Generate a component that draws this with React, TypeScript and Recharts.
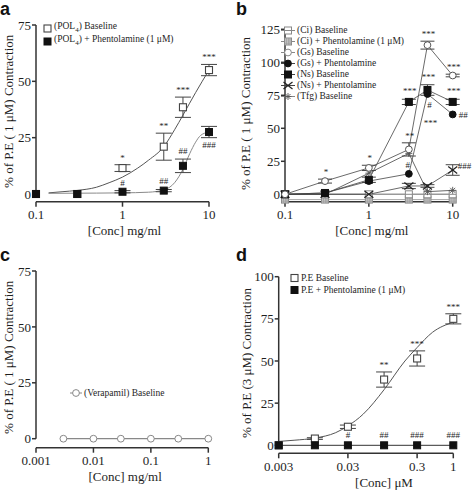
import React from "react"
import { ComposedChart, XAxis, YAxis, Scatter, Line, ErrorBar, ReferenceLine, Label } from "recharts"

const W = 236
const H = 246
const SERIF = '"Liberation Serif", "Times New Roman", serif'
const AXIS = "#333"
const INK = "#1e1e1e"

// ---- panel a: POL4 ----
const concA = [0.1, 0.3, 1, 3, 5, 10]
const polBase = [0, 0, 11.5, 21, 38.5, 55]
const polBaseErr = [0, 0, 1.5, 6, 4.5, 2.5]
const polBaseSig = ["", "", "*", "**", "***", "***"]
const polPhent = [0, 0, 1, 1.5, 12.5, 27.5]
const polPhentErr = [0, 0, 0.5, 0.5, 3, 2.5]
const polPhentSigUp = ["", "", "#", "##", "##", ""]
const polPhentSigDown = ["", "", "", "", "", "###"]
const polBaseFitX = [0.14, 0.2, 0.3, 0.5, 0.7, 1, 1.5, 2, 3, 4, 5, 7, 10]
const polBaseFitY = [0.5, 1, 1.6, 3, 5, 7.5, 11.5, 15, 21, 28.5, 35, 45, 55]
const polPhentFitX = [0.14, 0.5, 1, 2, 3, 4, 5, 6, 7, 8, 10]
const polPhentFitY = [0.3, 0.4, 0.5, 0.8, 1.8, 5, 11, 18, 23, 26, 27.5]

// ---- panel b: extracts ----
const concB = [0.1, 0.3, 1, 3, 5, 10]
const ciBase = [0, 0, 0, 0, 0, 0]
const ciPhent = [-4, -4, -4, -4, -4, -4]
const gsBase = [0, 10, 20, 34, 113, 90]
const gsBaseErr = [0, 1.5, 2, 5, 3, 1]
const gsBaseSig = ["", "*", "*", "**", "***", "***"]
const gsPhent = [0, 1, 10, 15.5, 76, 60.5]
const gsPhentSigUp = ["", "", "", "#", "", ""]
const gsPhentSigDown = ["", "", "", "", "#", ""]
const gsPhentSigFar = ["", "", "", "", "***", ""]
const gsPhentSigRight = ["", "", "", "", "", "##"]
const nsBase = [0, 1, 11, 70, 79, 70]
const nsBaseErr = [0, 0, 2, 2, 4, 2]
const nsBaseSig = ["", "", "", "***", "***", "***"]
const nsPhent = [0, 0, 0, 6.3, 6.3, 18.4]
const nsPhentErr = [0, 0, 0, 2, 1, 4]
const nsPhentSigRight = ["", "", "", "", "", "###"]
const tfgBase = [0, 0, 16, 31, 2, 3]

// ---- panel c: verapamil ----
const concC = [0.003, 0.01, 0.03, 0.1, 0.3, 1]
const veraBase = [0, 0, 0, 0, 0, 0]

// ---- panel d: P.E ----
const concD = [0.003, 0.01, 0.03, 0.1, 0.3, 1]
const peBase = [0, 4, 11, 39, 51.5, 75]
const peBaseErr = [0, 0.5, 1, 4.5, 4.5, 3]
const peBaseSig = ["", "", "", "**", "***", "***"]
const pePhent = [0, 0, 0, 0, 0, 0]
const pePhentSig = ["", "", "#", "##", "###", "###"]
const peFitX = [0.003, 0.005, 0.01, 0.02, 0.03, 0.05, 0.1, 0.2, 0.3, 0.5, 1]
const peFitY = [2.3, 3, 4.3, 7.5, 11.5, 18.5, 33, 50, 58, 67, 73]

type Pt = { x: number; y: number; err: number; sig: string }

const pts = (xs: number[], ys: number[], errs?: number[], sigs?: string[]): Pt[] =>
  xs.map((x, i) => ({ x, y: ys[i], err: errs ? errs[i] : 0, sig: sigs ? sigs[i] : "" }))

// label anchors sit on top (or bottom) of the error bar
const sigTop = (xs: number[], ys: number[], errs: number[], sigs: string[]) =>
  xs.map((x, i) => ({ x, y: ys[i] + errs[i], sig: sigs[i] })).filter((d) => d.sig)
const sigBottom = (xs: number[], ys: number[], errs: number[], sigs: string[]) =>
  xs.map((x, i) => ({ x, y: ys[i] - errs[i], sig: sigs[i] })).filter((d) => d.sig)
const zeros = (n: number) => new Array(n).fill(0)

// ---- markers ----
const openSquare = (p: any) => (
  <rect x={p.cx - 3.5} y={p.cy - 3.5} width={7} height={7} fill="#fff" stroke="#444" strokeWidth={1.1} />
)
const filledSquare = (p: any) => (
  <rect x={p.cx - 3.5} y={p.cy - 3.5} width={7} height={7} fill="#111" stroke="#111" strokeWidth={1} />
)
const lineSquare = (p: any) => (
  <g>
    <rect x={p.cx - 3.5} y={p.cy - 3.5} width={7} height={7} fill="#fff" stroke="#888" strokeWidth={1} />
    <line x1={p.cx - 3.5} x2={p.cx + 3.5} y1={p.cy} y2={p.cy} stroke="#888" strokeWidth={1} />
  </g>
)
const hatchSquare = (p: any) => (
  <g>
    <rect x={p.cx - 3.5} y={p.cy - 3.5} width={7} height={7} fill="#d0d0d0" stroke="#888" strokeWidth={1} />
    {[-1.5, 0.5, 2].map((d) => (
      <line key={"h" + d} x1={p.cx - 3.5} x2={p.cx + 3.5} y1={p.cy + d} y2={p.cy + d} stroke="#999" strokeWidth={0.6} />
    ))}
    {[-1.5, 0.5, 2].map((d) => (
      <line key={"v" + d} x1={p.cx + d} x2={p.cx + d} y1={p.cy - 3.5} y2={p.cy + 3.5} stroke="#999" strokeWidth={0.6} />
    ))}
  </g>
)
const openCircle = (p: any) => <circle cx={p.cx} cy={p.cy} r={3.4} fill="#fff" stroke="#555" strokeWidth={1} />
const grayCircle = (p: any) => <circle cx={p.cx} cy={p.cy} r={3.4} fill="#fff" stroke="#888" strokeWidth={1} />
const filledCircle = (p: any) => <circle cx={p.cx} cy={p.cy} r={3.4} fill="#111" stroke="#111" strokeWidth={1} />
const cross = (p: any) => (
  <g stroke="#222" strokeWidth={1.2}>
    <line x1={p.cx - 4.5} x2={p.cx + 4.5} y1={p.cy - 3.5} y2={p.cy + 3.5} />
    <line x1={p.cx - 4.5} x2={p.cx + 4.5} y1={p.cy + 3.5} y2={p.cy - 3.5} />
  </g>
)
const star = (p: any) => (
  <g stroke="#555" strokeWidth={0.9}>
    <line x1={p.cx - 3.5} x2={p.cx + 3.5} y1={p.cy} y2={p.cy} />
    <line x1={p.cx} x2={p.cx} y1={p.cy - 3.5} y2={p.cy + 3.5} />
    <line x1={p.cx - 2.5} x2={p.cx + 2.5} y1={p.cy - 2.5} y2={p.cy + 2.5} />
    <line x1={p.cx - 2.5} x2={p.cx + 2.5} y1={p.cy + 2.5} y2={p.cy - 2.5} />
  </g>
)

const sigText = (dx: number, dy: number, anchor: "start" | "middle" = "middle") => (p: any) =>
  p.payload && p.payload.sig ? (
    <text x={p.cx + dx} y={p.cy + dy} textAnchor={anchor} fontSize={9} fontFamily={SERIF} fill={INK}>
      {p.payload.sig}
    </text>
  ) : (
    <g />
  )

// ---- frames ----
type Frame = {
  left: number
  right: number
  top: number
  zeroY: number
  axisY: number
  yMax: number
  xDomain: [number, number]
  xTicks: number[]
  yTicks: number[]
  yTitle: string
  xTitle: string
  yTitleX: number
  xTitleDx: number
}

const frameA: Frame = {
  left: 36, right: 209, top: 25, zeroY: 194, axisY: 201.7, yMax: 75,
  xDomain: [0.1, 10], xTicks: [0.1, 1, 10], yTicks: [0, 25, 50, 75],
  yTitle: "% of P.E ( 1 μM) Contraction", xTitle: "[Conc] mg/ml", yTitleX: 9, xTitleDx: 2,
}
const frameB: Frame = {
  left: 49, right: 216.7, top: 29.3, zeroY: 194.3, axisY: 201.7, yMax: 125,
  xDomain: [0.1, 10], xTicks: [0.1, 1, 10], yTicks: [0, 25, 50, 75, 100, 125],
  yTitle: "% of P.E ( 1 μM) Contraction", xTitle: "[Conc] mg/ml", yTitleX: 9.3, xTitleDx: 3,
}
const frameC: Frame = {
  left: 36, right: 208.3, top: 25, zeroY: 192.7, axisY: 201.7, yMax: 75,
  xDomain: [0.001, 1], xTicks: [0.001, 0.01, 0.1, 1], yTicks: [0, 25, 50, 75],
  yTitle: "% of P.E ( 1 μM) Contraction", xTitle: "[Conc] mg/ml", yTitleX: 9, xTitleDx: 3,
}
const frameD: Frame = {
  left: 42.7, right: 217.3, top: 30.7, zeroY: 199.3, axisY: 207.3, yMax: 100,
  xDomain: [0.003, 1], xTicks: [0.003, 0.03, 0.3, 1], yTicks: [0, 25, 50, 75, 100],
  yTitle: "% of P.E (3 μM) Contraction", xTitle: "[Conc] μM", yTitleX: 10.7, xTitleDx: 18,
}

const marginOf = (f: Frame) => ({ top: f.top, right: W - f.right, left: 0, bottom: 0 })
const yMinOf = (f: Frame) => -(f.axisY - f.zeroY) / ((f.zeroY - f.top) / f.yMax)

function axes(f: Frame) {
  const xTitle = (p: any) => {
    const vb = p.viewBox
    return (
      <text x={vb.x + vb.width / 2 + f.xTitleDx} y={vb.y + 33.5} textAnchor="middle" fontSize={13} fontFamily={SERIF} fill={INK}>
        {f.xTitle}
      </text>
    )
  }
  const yTitle = (p: any) => {
    const vb = p.viewBox
    const x = f.yTitleX
    const y = vb.y + vb.height / 2 - 2
    return (
      <text x={x} y={y} transform={`rotate(-90 ${x} ${y})`} textAnchor="middle" dominantBaseline="central" fontSize={13} fontFamily={SERIF} fill={INK}>
        {f.yTitle}
      </text>
    )
  }
  return [
    <XAxis
      key="x"
      type="number"
      dataKey="x"
      scale="log"
      domain={f.xDomain}
      ticks={f.xTicks}
      interval={0}
      height={H - f.axisY}
      axisLine={{ stroke: AXIS, strokeWidth: 1.5 }}
      tickLine={{ stroke: AXIS, strokeWidth: 1.5 }}
      tickSize={5}
      tickMargin={3}
      tick={{ fontSize: 13, fontFamily: SERIF, fill: INK }}
      label={<Label content={xTitle} />}
    />,
    <YAxis
      key="y"
      type="number"
      dataKey="y"
      domain={[yMinOf(f), f.yMax]}
      ticks={f.yTicks}
      interval={0}
      width={f.left}
      axisLine={false}
      tickLine={{ stroke: AXIS, strokeWidth: 1.5 }}
      tickSize={4}
      tickMargin={1}
      tick={{ fontSize: 13, fontFamily: SERIF, fill: INK }}
      label={<Label content={yTitle} />}
    />,
    <ReferenceLine
      key="yline"
      segment={[
        { x: f.xDomain[0], y: 0 },
        { x: f.xDomain[0], y: f.yMax },
      ]}
      stroke={AXIS}
      strokeWidth={1.5}
      ifOverflow="visible"
    />,
  ]
}

// ---- legends ----
type LegendItem = { label: React.ReactNode; shape: (p: any) => React.ReactNode; line?: string }

function LegendBox({ items, left, top, pitch, symW }: { items: LegendItem[]; left: number; top: number; pitch: number; symW: number }) {
  return (
    <div style={{ position: "absolute", left, top, fontFamily: SERIF, fontSize: 9.5, color: INK, lineHeight: `${pitch}px` }}>
      {items.map((it, i) => (
        <div key={i} style={{ display: "flex", alignItems: "center", height: pitch, whiteSpace: "nowrap" }}>
          <svg width={symW} height={pitch} style={{ marginRight: 2, overflow: "visible" }}>
            {it.line && <line x1={0} x2={symW} y1={pitch / 2} y2={pitch / 2} stroke={it.line} strokeWidth={1} />}
            {it.shape({ cx: symW / 2, cy: pitch / 2 })}
          </svg>
          <span>{it.label}</span>
        </div>
      ))}
    </div>
  )
}

const Letter = ({ ch }: { ch: string }) => (
  <div style={{ position: "absolute", left: 0, top: 1, lineHeight: "16px", fontFamily: '"Liberation Sans", Arial, sans-serif', fontWeight: 700, fontSize: 18, color: "#111" }}>
    {ch}
  </div>
)

const fit = (xs: number[], ys: number[]) => xs.map((x, i) => ({ x, y: ys[i] }))

function PanelA() {
  const base = pts(concA, polBase, polBaseErr)
  const phent = pts(concA, polPhent, polPhentErr)
  return (
    <div style={{ position: "absolute", left: 0, top: 0, width: W, height: H }}>
      <ComposedChart width={W} height={H} margin={marginOf(frameA)}>
        {axes(frameA)}
        <Line data={fit(polBaseFitX, polBaseFitY)} dataKey="y" type="monotone" dot={false} stroke="#555" strokeWidth={1} isAnimationActive={false} />
        <Line data={fit(polPhentFitX, polPhentFitY)} dataKey="y" type="monotone" dot={false} stroke="#8a8a8a" strokeWidth={1} isAnimationActive={false} />
        <Scatter data={base} dataKey="y" shape={openSquare} isAnimationActive={false}>
          <ErrorBar dataKey="err" direction="y" width={8} stroke="#444" strokeWidth={1} />
        </Scatter>
        <Scatter data={phent} dataKey="y" shape={filledSquare} isAnimationActive={false}>
          <ErrorBar dataKey="err" direction="y" width={8} stroke="#444" strokeWidth={1} />
        </Scatter>
        <Scatter data={sigTop(concA, polBase, polBaseErr, polBaseSig)} dataKey="y" shape={sigText(0, -4)} isAnimationActive={false} />
        <Scatter data={sigTop(concA, polPhent, polPhentErr, polPhentSigUp)} dataKey="y" shape={sigText(0, -5)} isAnimationActive={false} />
        <Scatter data={sigBottom(concA, polPhent, polPhentErr, polPhentSigDown)} dataKey="y" shape={sigText(0, 10)} isAnimationActive={false} />
      </ComposedChart>
      <Letter ch="a" />
      <LegendBox
        left={43}
        top={22}
        pitch={13}
        symW={9}
        items={[
          { label: <>(POL<sub style={{ fontSize: 7 }}>4</sub>) Baseline</>, shape: openSquare },
          { label: <>(POL<sub style={{ fontSize: 7 }}>4</sub>) + Phentolamine (1 μM)</>, shape: filledSquare },
        ]}
      />
    </div>
  )
}

function PanelB() {
  const thin = { stroke: "#444", strokeWidth: 0.8 }
  return (
    <div style={{ position: "absolute", left: W, top: 0, width: W, height: H }}>
      <ComposedChart width={W} height={H} margin={marginOf(frameB)}>
        {axes(frameB)}
        <Scatter data={pts(concB, ciPhent)} dataKey="y" shape={hatchSquare} line={{ stroke: "#aaa", strokeWidth: 1 }} isAnimationActive={false} />
        <Scatter data={pts(concB, ciBase)} dataKey="y" shape={lineSquare} line={{ stroke: "#999", strokeWidth: 1.5 }} isAnimationActive={false} />
        <Scatter data={pts(concB, tfgBase)} dataKey="y" shape={star} line={thin} isAnimationActive={false} />
        <Scatter data={pts(concB, nsPhent, nsPhentErr)} dataKey="y" shape={cross} line={thin} isAnimationActive={false}>
          <ErrorBar dataKey="err" direction="y" width={7} stroke="#444" strokeWidth={1} />
        </Scatter>
        <Scatter data={pts(concB, gsPhent)} dataKey="y" shape={filledCircle} line={thin} isAnimationActive={false} />
        <Scatter data={pts(concB, nsBase, nsBaseErr)} dataKey="y" shape={filledSquare} line={thin} isAnimationActive={false}>
          <ErrorBar dataKey="err" direction="y" width={7} stroke="#444" strokeWidth={1} />
        </Scatter>
        <Scatter data={pts(concB, gsBase, gsBaseErr)} dataKey="y" shape={openCircle} line={thin} isAnimationActive={false}>
          <ErrorBar dataKey="err" direction="y" width={7} stroke="#444" strokeWidth={1} />
        </Scatter>
        <Scatter data={sigTop(concB, gsBase, gsBaseErr, gsBaseSig)} dataKey="y" shape={sigText(1, -4)} isAnimationActive={false} />
        <Scatter data={sigTop(concB, nsBase, nsBaseErr, nsBaseSig)} dataKey="y" shape={sigText(1, -5)} isAnimationActive={false} />
        <Scatter data={sigTop(concB, gsPhent, zeros(6), gsPhentSigUp)} dataKey="y" shape={sigText(-1, -6)} isAnimationActive={false} />
        <Scatter data={sigBottom(concB, gsPhent, zeros(6), gsPhentSigDown)} dataKey="y" shape={sigText(2, 14)} isAnimationActive={false} />
        <Scatter data={sigBottom(concB, gsPhent, zeros(6), gsPhentSigFar)} dataKey="y" shape={sigText(3, 32)} isAnimationActive={false} />
        <Scatter data={sigTop(concB, gsPhent, zeros(6), gsPhentSigRight)} dataKey="y" shape={sigText(6, 4, "start")} isAnimationActive={false} />
        <Scatter data={sigTop(concB, nsPhent, nsPhentErr, nsPhentSigRight)} dataKey="y" shape={sigText(5, 4, "start")} isAnimationActive={false} />
      </ComposedChart>
      <Letter ch="b" />
      <LegendBox
        left={45}
        top={24.5}
        pitch={11}
        symW={14}
        items={[
          { label: "(Ci) Baseline", shape: lineSquare, line: "#888" },
          { label: "(Ci) + Phentolamine (1 μM)", shape: hatchSquare, line: "#888" },
          { label: "(Gs) Baseline", shape: grayCircle, line: "#888" },
          { label: "(Gs) + Phentolamine", shape: filledCircle, line: "#444" },
          { label: "(Ns) Baseline", shape: filledSquare, line: "#444" },
          { label: "(Ns) + Phentolamine", shape: cross, line: "#444" },
          { label: "(Tfg) Baseline", shape: star, line: "#888" },
        ]}
      />
    </div>
  )
}

function PanelC() {
  return (
    <div style={{ position: "absolute", left: 0, top: H, width: W, height: H }}>
      <ComposedChart width={W} height={H} margin={marginOf(frameC)}>
        {axes(frameC)}
        <Scatter data={pts(concC, veraBase)} dataKey="y" shape={grayCircle} line={{ stroke: "#888", strokeWidth: 1.2 }} isAnimationActive={false} />
      </ComposedChart>
      <Letter ch="c" />
      <LegendBox left={70} top={141} pitch={12} symW={12} items={[{ label: "(Verapamil) Baseline", shape: grayCircle, line: "#888" }]} />
    </div>
  )
}

function PanelD() {
  const base = pts(concD, peBase, peBaseErr)
  return (
    <div style={{ position: "absolute", left: W, top: H, width: W, height: H }}>
      <ComposedChart width={W} height={H} margin={marginOf(frameD)}>
        {axes(frameD)}
        <Line data={fit(peFitX, peFitY)} dataKey="y" type="monotone" dot={false} stroke="#555" strokeWidth={1} isAnimationActive={false} />
        <Scatter data={base} dataKey="y" shape={openSquare} isAnimationActive={false}>
          <ErrorBar dataKey="err" direction="y" width={8} stroke="#444" strokeWidth={1} />
        </Scatter>
        <Scatter data={pts(concD, pePhent)} dataKey="y" shape={filledSquare} line={{ stroke: "#333", strokeWidth: 1 }} isAnimationActive={false} />
        <Scatter data={sigTop(concD, peBase, peBaseErr, peBaseSig)} dataKey="y" shape={sigText(0, -4)} isAnimationActive={false} />
        <Scatter data={sigTop(concD, pePhent, zeros(6), pePhentSig)} dataKey="y" shape={sigText(0, -7)} isAnimationActive={false} />
      </ComposedChart>
      <Letter ch="d" />
      <LegendBox
        left={54}
        top={26}
        pitch={12}
        symW={9}
        items={[
          { label: "P.E Baseline", shape: openSquare },
          { label: "P.E + Phentolamine (1 μM)", shape: filledSquare },
        ]}
      />
    </div>
  )
}

export default function App() {
  return (
    <div style={{ position: "absolute", left: 0, top: 0, width: 2 * W, height: 2 * H, background: "#fff", overflow: "hidden" }}>
      <PanelA />
      <PanelB />
      <PanelC />
      <PanelD />
    </div>
  )
}
